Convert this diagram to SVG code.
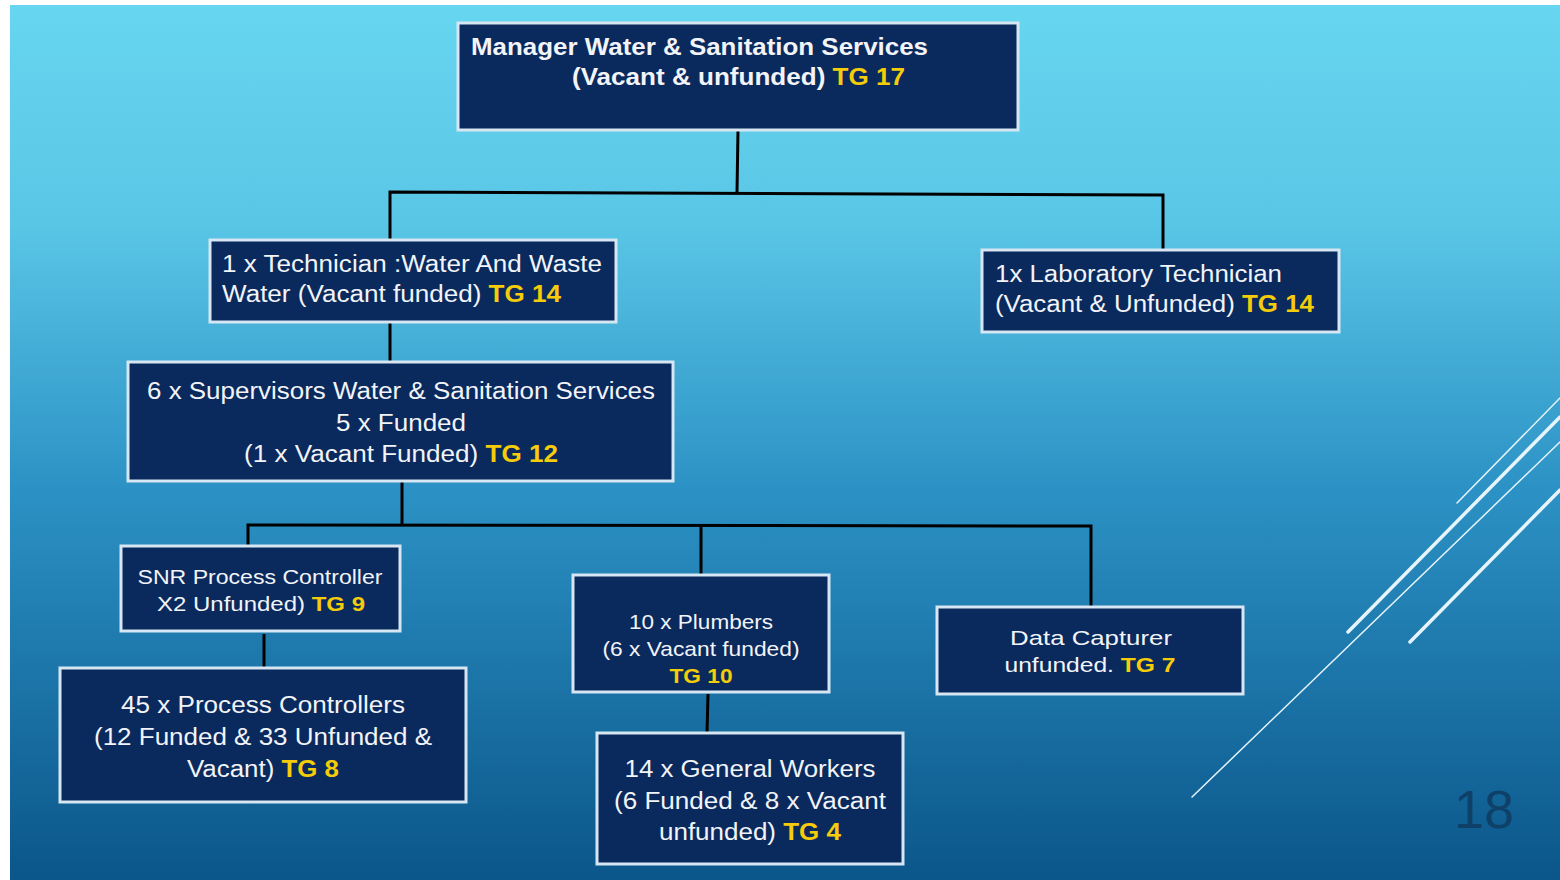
<svg xmlns="http://www.w3.org/2000/svg" width="1560" height="880" viewBox="0 0 1560 880">
<defs>
<linearGradient id="bg" x1="0" y1="0" x2="0" y2="1">
<stop offset="0" stop-color="#67D6F0"/>
<stop offset="0.25" stop-color="#5AC6E6"/>
<stop offset="0.55" stop-color="#2C92C5"/>
<stop offset="1" stop-color="#0B568A"/>
</linearGradient>
</defs>
<style>
.box{fill:#0A2A5E;stroke:#D6E6F2;stroke-width:3}
.t{font-family:"Liberation Sans",Arial,sans-serif;font-size:23px;fill:#F2F4F8}
.b{font-weight:bold}
.y{fill:#F5CC0A;font-weight:bold}
.c{text-anchor:middle}
.g{font-size:21px}
.conn{stroke:#000;stroke-width:3;fill:none}
.deco{stroke:#E6F4FB;fill:none;stroke-linecap:round}
</style>
<rect x="0" y="0" width="1560" height="880" fill="#FFFFFF"/>
<rect x="10" y="5" width="1550" height="875" fill="url(#bg)"/>
<g id="decoration">
<line class="deco" x1="1457" y1="503" x2="1560" y2="398" stroke-width="1.5"/>
<line class="deco" x1="1348" y1="632" x2="1560" y2="417" stroke-width="3.5"/>
<line class="deco" x1="1192" y1="797" x2="1560" y2="442" stroke-width="1.5"/>
<line class="deco" x1="1410" y1="642" x2="1560" y2="490" stroke-width="3.5"/>
</g>
<text x="1484" y="828" text-anchor="middle" font-family="'Liberation Sans',Arial,sans-serif" font-size="54" fill="#0F4068">18</text>
<g id="connectors">
<polyline class="conn" points="738,130 737,192"/>
<polyline class="conn" points="390,240 390,192 1163,195 1163,250"/>
<polyline class="conn" points="390,322 390,362"/>
<polyline class="conn" points="402,481 402,525"/>
<polyline class="conn" points="248,546 248,525 1091,526 1091,607"/>
<polyline class="conn" points="701,525 701,575"/>
<polyline class="conn" points="264,634 264,668"/>
<polyline class="conn" points="708,694 707,733"/>
</g>
<g id="manager">
<rect class="box" x="458" y="23" width="560" height="107"/>
<text class="t b" x="471" y="55" textLength="457" lengthAdjust="spacingAndGlyphs">Manager Water &amp; Sanitation Services</text>
<text class="t b" x="572" y="85" textLength="333" lengthAdjust="spacingAndGlyphs">(Vacant &amp; unfunded) <tspan class="y">TG 17</tspan></text>
</g>
<g id="technician">
<rect class="box" x="210" y="240" width="406" height="82"/>
<text class="t" x="222" y="272" textLength="380" lengthAdjust="spacingAndGlyphs">1 x Technician :Water And Waste</text>
<text class="t" x="222" y="302" textLength="339" lengthAdjust="spacingAndGlyphs">Water (Vacant funded) <tspan class="y">TG 14</tspan></text>
</g>
<g id="lab-technician">
<rect class="box" x="982" y="250" width="357" height="82"/>
<text class="t" x="995" y="282" textLength="287" lengthAdjust="spacingAndGlyphs">1x Laboratory Technician</text>
<text class="t" x="995" y="312" textLength="319" lengthAdjust="spacingAndGlyphs">(Vacant &amp; Unfunded) <tspan class="y">TG 14</tspan></text>
</g>
<g id="supervisors">
<rect class="box" x="128" y="362" width="545" height="119"/>
<text class="t c" x="401" y="399" textLength="508" lengthAdjust="spacingAndGlyphs">6 x Supervisors Water &amp; Sanitation Services</text>
<text class="t c" x="401" y="431" textLength="130" lengthAdjust="spacingAndGlyphs">5 x Funded</text>
<text class="t c" x="401" y="462" textLength="314" lengthAdjust="spacingAndGlyphs">(1 x Vacant Funded) <tspan class="y">TG 12</tspan></text>
</g>
<g id="snr-process-controller">
<rect class="box" x="121" y="546" width="279" height="85"/>
<text class="t c g" x="260" y="584" textLength="245" lengthAdjust="spacingAndGlyphs">SNR Process Controller</text>
<text class="t c g" x="261" y="611" textLength="208" lengthAdjust="spacingAndGlyphs">X2 Unfunded) <tspan class="y">TG 9</tspan></text>
</g>
<g id="process-controllers">
<rect class="box" x="60" y="668" width="406" height="134"/>
<text class="t c" x="263" y="713" textLength="284" lengthAdjust="spacingAndGlyphs">45 x Process Controllers</text>
<text class="t c" x="263" y="745" textLength="338" lengthAdjust="spacingAndGlyphs">(12 Funded &amp; 33 Unfunded &amp;</text>
<text class="t c" x="263" y="777" textLength="152" lengthAdjust="spacingAndGlyphs">Vacant) <tspan class="y">TG 8</tspan></text>
</g>
<g id="plumbers">
<rect class="box" x="573" y="575" width="256" height="117"/>
<text class="t c g" x="701" y="629" textLength="144" lengthAdjust="spacingAndGlyphs">10 x Plumbers</text>
<text class="t c g" x="701" y="656" textLength="197" lengthAdjust="spacingAndGlyphs">(6 x Vacant funded)</text>
<text class="t c g y" x="701" y="683" textLength="63" lengthAdjust="spacingAndGlyphs">TG 10</text>
</g>
<g id="general-workers">
<rect class="box" x="597" y="733" width="306" height="131"/>
<text class="t c" x="750" y="777" textLength="251" lengthAdjust="spacingAndGlyphs">14 x General Workers</text>
<text class="t c" x="750" y="809" textLength="272" lengthAdjust="spacingAndGlyphs">(6 Funded &amp; 8 x Vacant</text>
<text class="t c" x="750" y="840" textLength="182" lengthAdjust="spacingAndGlyphs">unfunded) <tspan class="y">TG 4</tspan></text>
</g>
<g id="data-capturer">
<rect class="box" x="937" y="607" width="306" height="87"/>
<text class="t c g" x="1091" y="645" textLength="162" lengthAdjust="spacingAndGlyphs">Data Capturer</text>
<text class="t c g" x="1090" y="672" textLength="171" lengthAdjust="spacingAndGlyphs">unfunded. <tspan class="y">TG 7</tspan></text>
</g>
</svg>
